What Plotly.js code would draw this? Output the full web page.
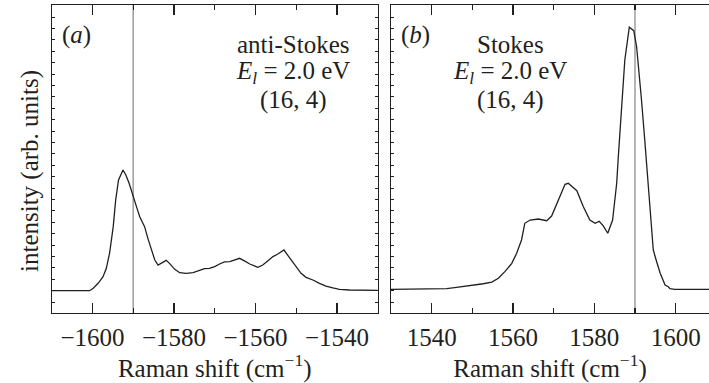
<!DOCTYPE html>
<html>
<head>
<meta charset="utf-8">
<script src="https://cdn.plot.ly/plotly-3.0.1.min.js"></script>
<style>
  html, body { margin: 0; padding: 0; background: #fff; }
  #chart { width: 709px; height: 383px; }
</style>
</head>
<body>
<div id="chart"></div>
<script>
// Anti-Stokes spectrum, (16,4) tube, E_l = 2.0 eV
const antiStokesShift = [-1610, -1600.7, -1599.8, -1598.6, -1597.4, -1596.6, -1595.8, -1594.9, -1594.3, -1593.6,
  -1592.5, -1591.8, -1591.0, -1590.0, -1589.2, -1588.4, -1587.2, -1586.4, -1585.5, -1584.7,
  -1583.9, -1582.9, -1581.9, -1581.1, -1579.8, -1578.6, -1577.0, -1575.3, -1573.7, -1572.5,
  -1571.3, -1570.0, -1568.8, -1567.6, -1566.3, -1565.1, -1563.9, -1562.7, -1561.4, -1559.4,
  -1558.2, -1557.0, -1555.7, -1554.5, -1553.0, -1552.1, -1551.2, -1550.0, -1548.8, -1547.6,
  -1545.9, -1544.3, -1542.7, -1541.0, -1539.4, -1536.9, -1532.0, -1530];
const antiStokesIntensity = [0, 0, 0.021, 0.065, 0.123, 0.196, 0.328, 0.562, 0.796, 0.971,
  1.059, 1.015, 0.942, 0.839, 0.737, 0.649, 0.562, 0.459, 0.357, 0.269,
  0.225, 0.246, 0.266, 0.240, 0.187, 0.158, 0.152, 0.158, 0.176, 0.193,
  0.196, 0.211, 0.234, 0.252, 0.255, 0.269, 0.284, 0.261, 0.234, 0.205,
  0.225, 0.261, 0.299, 0.322, 0.357, 0.313, 0.269, 0.211, 0.152, 0.117,
  0.094, 0.065, 0.041, 0.024, 0.012, 0.006, 0.003, 0.003];

// Stokes spectrum, same tube and laser energy
const stokesShift = [1530, 1541.2, 1543.7, 1546.1, 1548.6, 1551.1, 1552.7, 1554.8, 1556.4, 1558.0,
  1559.7, 1560.9, 1562.1, 1562.9, 1564.2, 1566.2, 1568.3, 1569.5, 1571.1, 1572.8,
  1573.6, 1575.7, 1577.3, 1578.9, 1580.2, 1581.2, 1582.2, 1583.3, 1584.5, 1585.5,
  1585.9, 1586.7, 1587.5, 1588.6, 1589.7, 1590.4, 1591.0, 1591.6, 1592.4, 1593.3,
  1594.1, 1594.5, 1595.2, 1596.2, 1597.4, 1598.2, 1598.6, 1599.8, 1610];
const stokesIntensity = [0.012, 0.012, 0.018, 0.030, 0.041, 0.056, 0.061, 0.076, 0.109, 0.167,
  0.240, 0.328, 0.445, 0.591, 0.620, 0.629, 0.614, 0.655, 0.796, 0.933,
  0.942, 0.877, 0.737, 0.620, 0.591, 0.609, 0.568, 0.504, 0.620, 0.942,
  1.175, 1.585, 2.024, 2.311, 2.281, 2.140, 1.936, 1.673, 1.322, 0.912,
  0.561, 0.357, 0.269, 0.153, 0.050, 0.035, 0.018, 0.012, 0.012];

// G-band reference positions (grey markers)
const gBandShift = [-1590, 1590];

// Tick labels
const antiStokesTicks = [-1600, -1580, -1560, -1540];
const stokesTicks = [1540, 1560, 1580, 1600];

// Panel text
const panelLetters = ['a', 'b'];
const panelTitles = ['anti-Stokes', 'Stokes'];
const laserLine = '<i>E</i><sub><i>l</i></sub> = 2.0 eV';
const tubeIndex = '(16, 4)';
const intensityLabel = 'intensity (arb. units)';

const W = 709, H = 383;
const FONT = 'Liberation Serif, Times New Roman, serif';
const INK = '#231f20';
const FS = 25;
const px = v => v / W;
const py = v => 1 - v / H;

const lineStyle = { color: INK, width: 1.3 };

const traces = [
  { x: antiStokesShift, y: antiStokesIntensity, xaxis: 'x', yaxis: 'y',
    type: 'scatter', mode: 'lines', line: lineStyle, hoverinfo: 'skip' },
  { x: stokesShift, y: stokesIntensity, xaxis: 'x2', yaxis: 'y2',
    type: 'scatter', mode: 'lines', line: lineStyle, hoverinfo: 'skip' }
];

const textFont = { family: FONT, size: FS, color: INK };
const yRange = [-0.1956, 2.506];

function xAxis(range, domain, tickvals, anchor) {
  return {
    range: range, domain: domain, anchor: anchor,
    showline: true, linecolor: INK, linewidth: 1.2, mirror: 'allticks',
    ticks: 'inside', ticklen: 10, tickwidth: 1.1, tickcolor: INK,
    tickmode: 'array', tickvals: tickvals,
    minor: { tickmode: 'linear', tick0: 0, dtick: 10, ticks: 'inside', ticklen: 5,
             tickwidth: 1.1, tickcolor: INK, showgrid: false },
    tickfont: textFont, ticklabelstandoff: 2, showgrid: false, zeroline: false,
    title: { text: 'Raman shift (cm<sup>−1</sup>)', font: textFont, standoff: 5 }
  };
}

function yAxis(domain, anchor, mirror) {
  return {
    range: yRange, domain: domain, anchor: anchor,
    showline: true, linecolor: INK, linewidth: 1.2, mirror: mirror,
    ticks: 'inside', ticklen: 3, tickwidth: 1, tickcolor: INK,
    tickmode: 'linear', tick0: 0, dtick: 0.1,
    showticklabels: false, showgrid: false, zeroline: false
  };
}

const yDomain = [py(313), py(5)];

// Shared intensity label, placed to the left of the first panel
const annotations = [{
  xref: 'paper', yref: 'paper', x: px(30), y: py(171),
  text: intensityLabel, textangle: -90, showarrow: false,
  xanchor: 'center', yanchor: 'middle', font: textFont
}];
const panelCenters = [293, 510];
const letterCenters = [76, 415];
panelLetters.forEach((l, i) => {
  annotations.push({ xref: 'paper', yref: 'paper', x: px(letterCenters[i]), y: py(35),
    text: '(<i>' + l + '</i>)', showarrow: false, xanchor: 'center', yanchor: 'middle',
    font: textFont });
  annotations.push({ xref: 'paper', yref: 'paper', x: px(panelCenters[i]), y: py(44),
    text: panelTitles[i], showarrow: false, xanchor: 'center', yanchor: 'middle',
    font: textFont });
  annotations.push({ xref: 'paper', yref: 'paper', x: px(panelCenters[i]), y: py(73),
    text: laserLine, showarrow: false, xanchor: 'center', yanchor: 'middle',
    font: textFont });
  annotations.push({ xref: 'paper', yref: 'paper', x: px(panelCenters[i]), y: py(100),
    text: tubeIndex, showarrow: false, xanchor: 'center', yanchor: 'middle',
    font: textFont });
});

const shapes = gBandShift.map((g, i) => ({
  type: 'line', xref: i === 0 ? 'x' : 'x2', yref: i === 0 ? 'y domain' : 'y2 domain',
  x0: g, x1: g, y0: 0, y1: 1, layer: 'below',
  line: { color: '#a3a3a3', width: 1.6 }
}));

const layout = {
  width: W, height: H,
  margin: { l: 0, r: 0, t: 0, b: 0, pad: 0 },
  paper_bgcolor: '#ffffff', plot_bgcolor: '#ffffff',
  showlegend: false,
  font: { family: FONT, color: INK },
  xaxis: xAxis([-1610, -1530], [px(51.7), px(377.7)], antiStokesTicks, 'y'),
  yaxis: yAxis(yDomain, 'x', 'ticks'),
  xaxis2: xAxis([1530, 1608.2], [px(391), 1], stokesTicks, 'y2'),
  yaxis2: yAxis(yDomain, 'x2', false),
  annotations: annotations,
  shapes: shapes
};

Plotly.newPlot('chart', traces, layout, { staticPlot: true, displayModeBar: false });
</script>
</body>
</html>
